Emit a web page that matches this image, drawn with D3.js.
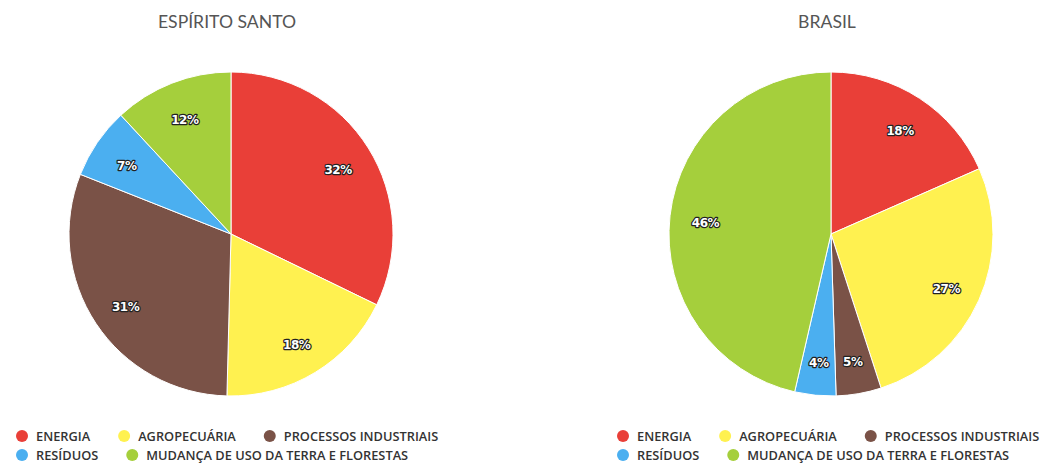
<!DOCTYPE html>
<html>
<head>
<meta charset="utf-8">
<script src="https://cdn.jsdelivr.net/npm/d3@7"></script>
<style>
  body { margin: 0; background: #fff; }
  svg { display: block; }
</style>
</head>
<body>
<div id="chart"></div>
<script>
// categories + colours
const categories = ['ENERGIA', 'AGROPECUÁRIA', 'PROCESSOS INDUSTRIAIS', 'RESÍDUOS', 'MUDANÇA DE USO DA TERRA E FLORESTAS'];
const colors = ['#e93f38', '#fff150', '#7a5247', '#4baff0', '#a5cf3c'];
// percentage shares
const esValues = [32.2, 18.2, 30.6, 7.1, 11.9];
const brValues = [18.4, 26.6, 4.5, 4.1, 46.4];
const titles = ['ESPÍRITO SANTO', 'BRASIL'];

const W = 1046, H = 464;
const svg = d3.select('#chart').append('svg').attr('width', W).attr('height', H);

const charts = [
  { title: titles[0], values: esValues, cx: 231, cy: 234, titleX: 227, legendX: 22 },
  { title: titles[1], values: brValues, cx: 831, cy: 234, titleX: 827, legendX: 623 }
];
const r = 162;

charts.forEach(function(c) {
  const g = svg.append('g');

  g.append('text')
    .attr('x', c.titleX).attr('y', 28)
    .attr('text-anchor', 'middle')
    .style('font-family', 'Lato, sans-serif')
    .style('font-size', '17.6px')
    .style('fill', '#555')
    .text(c.title);

  const data = categories.map((k, i) => ({ name: k, value: c.values[i], color: colors[i] }));
  const pie = d3.pie().sort(null).value(d => d.value);
  const arc = d3.arc().innerRadius(0).outerRadius(r);
  const labelArc = d3.arc().innerRadius(r * 0.78).outerRadius(r * 0.78);

  const pg = g.append('g').attr('transform', 'translate(' + c.cx + ',' + c.cy + ')');
  const arcs = pie(data);
  pg.selectAll('path')
    .data(arcs)
    .enter()
    .append('path')
    .attr('d', arc)
    .attr('fill', d => d.data.color)
    .attr('stroke', '#fff')
    .attr('stroke-width', 1);

  pg.selectAll('text.lbl')
    .data(arcs)
    .enter()
    .append('text')
    .attr('class', 'lbl')
    .attr('transform', d => 'translate(' + labelArc.centroid(d) + ')')
    .attr('text-anchor', 'middle')
    .attr('dy', '0.6em')
    .style('font-family', '"DejaVu Sans", sans-serif')
    .style('font-size', '12px')
    .style('font-weight', 'bold')
    .style('letter-spacing', '-0.5px')
    .style('fill', '#fff')
    .style('stroke', '#222')
    .style('stroke-width', 2.4)
    .style('stroke-linejoin', 'round')
    .style('paint-order', 'stroke')
    .text(d => Math.round(d.data.value) + '%');

  // legend, two rows like the original
  const rows = [[0, 1, 2], [3, 4]];
  const lg = g.append('g');
  rows.forEach(function(row, ri) {
    let x = c.legendX;
    const y = 436 + ri * 19;
    row.forEach(function(i) {
      lg.append('circle')
        .attr('cx', x).attr('cy', y).attr('r', 6)
        .attr('fill', colors[i]);
      const t = lg.append('text')
        .attr('x', x + 14).attr('y', y + 4.5)
        .style('font-family', '"Open Sans", sans-serif')
        .style('font-size', '12.8px')
        .style('font-weight', '600')
        .style('fill', '#333')
        .text(categories[i]);
      const tw = t.node().getComputedTextLength();
      x = x + 14 + tw + 34;
    });
  });
});
</script>
</body>
</html>
